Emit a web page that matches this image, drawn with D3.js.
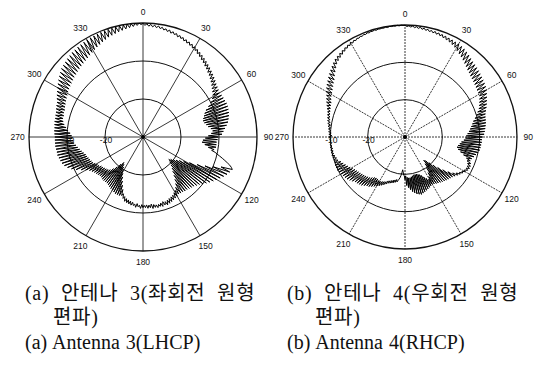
<!DOCTYPE html>
<html>
<head>
<meta charset="utf-8">
<script src="https://cdn.jsdelivr.net/npm/d3@7"></script>
<style>
  html, body { margin: 0; padding: 0; background: #fff; }
  svg { display: block; }
  .tick-label { font-family: Arial, "Liberation Sans", sans-serif; font-size: 8.5px; fill: #111; }
  .caption { font-family: "Liberation Serif", "Noto Sans CJK KR", serif; font-size: 20px; fill: #111; }
</style>
</head>
<body>
<div id="chart"></div>
<script>
// angle ticks (deg, clockwise from top) and radial ticks (dB)
const angleTicks = [0, 30, 60, 90, 120, 150, 180, 210, 240, 270, 300, 330];
const ringTicks = [-20, -10, 0];
const ringLabels = ['-20', '-10'];
const dbRange = [-30, 0];

// one sample per degree, 0..359
const sampleAngles = d3.range(0, 360);

// Antenna 3 (LHCP), dB
const gainLHCP = [
  -0.1,-0.6,-0.2,-0.8,-0.3,-0.9,-0.4,-1.0,-0.5,-1.1,
  -0.7,-1.3,-0.9,-1.5,-1.0,-1.7,-1.2,-1.8,-1.4,-2.1,
  -1.6,-2.2,-1.8,-2.5,-2.0,-2.7,-2.2,-2.9,-2.4,-3.2,
  -2.6,-3.4,-2.9,-3.8,-3.2,-4.1,-3.5,-4.5,-3.8,-4.8,
  -4.1,-5.2,-4.4,-5.5,-4.7,-5.9,-5.0,-6.2,-5.3,-6.6,
  -5.6,-7.0,-5.9,-7.4,-6.2,-7.8,-6.4,-8.2,-6.6,-8.6,
  -6.8,-9.2,-6.6,-10.0,-6.5,-11.0,-6.4,-12.0,-6.3,-12.6,
  -6.3,-13.0,-6.4,-13.4,-6.5,-13.6,-6.7,-13.4,-7.0,-13.0,
  -7.3,-12.6,-7.8,-12.0,-8.3,-11.6,-8.8,-12.0,-9.2,-12.8,
  -10.2,-13.6,-10.4,-14.2,-10.6,-14.4,-10.6,-13.6,-10.6,-12.6,
  -11.0,-11.6,-10.6,-10.0,-9.2,-8.4,-7.6,-6.8,-6.0,-5.4,
  -5.0,-8.0,-5.4,-10.0,-5.8,-12.0,-6.4,-14.0,-7.0,-16.0,
  -7.6,-17.5,-8.2,-18.6,-8.8,-19.4,-9.4,-20.0,-10.0,-20.6,
  -10.6,-21.0,-11.0,-20.4,-11.4,-19.6,-11.6,-18.8,-11.8,-18.0,
  -12.0,-17.0,-12.0,-16.0,-12.2,-15.0,-12.2,-14.2,-12.3,-13.6,
  -12.0,-13.2,-11.8,-12.8,-11.6,-12.6,-11.4,-12.4,-11.2,-12.2,
  -11.0,-12.0,-11.2,-12.2,-11.0,-12.0,-11.2,-11.8,-11.0,-11.8,
  -11.2,-12.0,-11.0,-12.2,-11.3,-12.0,-11.2,-12.1,-11.4,-12.0,
  -11.4,-12.2,-11.2,-12.0,-11.6,-12.4,-11.4,-12.2,-11.8,-12.6,
  -11.8,-12.8,-12.0,-13.0,-12.2,-13.2,-12.4,-13.6,-13.0,-14.2,
  -13.6,-15.2,-13.4,-16.2,-13.4,-17.2,-13.4,-18.2,-13.6,-19.0,
  -13.8,-19.8,-14.0,-20.6,-14.2,-21.2,-14.4,-21.6,-14.6,-20.8,
  -14.6,-19.6,-14.6,-18.6,-14.6,-17.8,-14.8,-17.4,-14.8,-17.2,
  -14.6,-17.0,-14.4,-16.8,-14.2,-16.6,-13.8,-16.2,-13.4,-16.0,
  -12.6,-15.6,-11.6,-15.2,-10.4,-15.0,-9.4,-14.8,-8.6,-14.6,
  -8.0,-14.4,-7.6,-14.2,-7.4,-13.8,-7.2,-13.4,-7.0,-13.0,
  -7.0,-12.6,-6.9,-12.2,-6.8,-11.8,-6.8,-11.6,-6.8,-11.4,
  -6.8,-11.2,-6.7,-10.8,-6.6,-10.2,-6.6,-9.6,-6.5,-9.0,
  -6.4,-8.6,-6.4,-8.4,-6.3,-8.4,-6.2,-8.2,-6.0,-8.2,
  -5.8,-8.0,-5.6,-7.8,-5.2,-7.6,-4.8,-7.4,-4.4,-7.2,
  -4.0,-7.0,-3.6,-6.8,-3.2,-6.6,-2.8,-6.4,-2.4,-6.2,
  -2.0,-6.0,-1.8,-5.8,-1.6,-5.6,-1.4,-5.4,-1.2,-5.2,
  -1.0,-5.0,-0.9,-4.8,-0.8,-4.6,-0.7,-4.3,-0.6,-4.0,
  -0.5,-3.7,-0.4,-3.4,-0.4,-3.1,-0.3,-2.8,-0.3,-2.5,
  -0.2,-2.2,-0.2,-2.0,-0.2,-1.8,-0.1,-1.6,-0.1,-1.4,
  -0.1,-1.2,0.0,-1.0,0.0,-0.8,0.0,-0.6,0.0,-0.4
];

// Antenna 4 (RHCP), dB
const gainRHCP = [
  -0.1,-0.4,-0.2,-0.5,-0.2,-0.6,-0.3,-0.7,-0.3,-0.8,
  -0.4,-0.9,-0.5,-1.0,-0.6,-1.1,-0.6,-1.2,-0.7,-1.3,
  -0.8,-1.5,-0.9,-1.7,-1.0,-1.9,-1.1,-2.2,-1.2,-2.5,
  -1.2,-3.0,-1.4,-3.4,-1.6,-3.8,-1.9,-4.2,-2.2,-4.6,
  -2.6,-5.0,-2.9,-5.4,-3.1,-5.7,-3.3,-6.0,-3.5,-6.2,
  -3.7,-6.4,-3.9,-6.6,-4.1,-6.8,-4.3,-7.0,-4.5,-7.1,
  -4.8,-7.2,-5.2,-7.6,-5.6,-8.0,-6.0,-8.4,-6.4,-8.8,
  -6.8,-9.4,-7.2,-10.0,-7.6,-10.6,-7.8,-11.2,-7.9,-11.6,
  -8.0,-12.0,-8.2,-12.4,-8.4,-12.8,-8.6,-13.2,-8.8,-13.6,
  -9.2,-13.8,-9.4,-14.2,-9.4,-14.8,-9.5,-15.2,-9.6,-15.6,
  -9.7,-15.8,-10.0,-15.4,-10.4,-14.6,-10.8,-13.6,-11.2,-12.6,
  -11.4,-12.2,-11.0,-11.8,-10.8,-11.6,-10.8,-11.6,-11.0,-11.8,
  -11.4,-12.2,-11.8,-12.6,-12.2,-13.2,-12.6,-14.0,-13.0,-15.2,
  -13.4,-16.6,-13.6,-18.0,-13.8,-19.4,-14.0,-20.6,-14.2,-21.6,
  -14.4,-22.0,-14.6,-21.0,-14.8,-19.8,-15.0,-18.6,-15.2,-17.6,
  -15.4,-17.0,-15.2,-17.6,-15.0,-18.2,-14.8,-18.8,-14.6,-19.2,
  -14.4,-19.4,-14.2,-19.6,-14.0,-19.6,-14.2,-19.6,-14.4,-19.4,
  -14.8,-19.2,-15.2,-19.0,-15.8,-19.0,-16.4,-19.2,-17.0,-19.6,
  -18.6,-19.6,-19.8,-20.6,-21.2,-20.4,-19.6,-19.0,-18.6,-18.2,
  -17.8,-18.4,-17.6,-18.2,-17.4,-18.0,-17.2,-17.8,-17.0,-17.6,
  -16.8,-17.4,-16.4,-17.0,-16.0,-16.8,-15.6,-16.6,-15.2,-16.4,
  -14.8,-16.4,-14.4,-16.6,-14.0,-16.6,-13.6,-16.4,-13.4,-16.0,
  -13.0,-15.6,-12.6,-15.4,-12.4,-15.2,-12.2,-15.0,-12.0,-14.8,
  -11.6,-14.6,-11.2,-14.4,-10.8,-14.2,-10.6,-14.0,-10.4,-13.6,
  -10.2,-13.2,-10.0,-12.8,-9.8,-12.4,-9.8,-12.0,-9.8,-11.6,
  -10.0,-11.0,-10.0,-10.8,-9.9,-10.6,-9.8,-10.4,-9.8,-10.4,
  -9.8,-10.4,-9.8,-10.3,-9.8,-10.2,-9.8,-10.2,-9.8,-10.2,
  -9.6,-10.4,-9.6,-10.2,-9.5,-10.0,-9.4,-9.9,-9.2,-9.8,
  -9.0,-9.6,-8.8,-9.4,-8.6,-9.2,-8.4,-9.0,-8.2,-8.8,
  -7.8,-8.6,-7.4,-8.4,-7.0,-8.2,-6.6,-7.8,-6.2,-7.4,
  -5.6,-7.2,-5.2,-6.8,-4.8,-6.4,-4.4,-6.0,-4.0,-5.6,
  -3.6,-5.0,-3.2,-4.4,-2.8,-3.8,-2.4,-3.2,-2.0,-2.8,
  -1.8,-2.5,-1.6,-2.2,-1.4,-1.9,-1.2,-1.6,-1.0,-1.4,
  -0.8,-1.2,-0.7,-1.0,-0.6,-0.8,-0.5,-0.7,-0.4,-0.6,
  -0.3,-0.5,-0.3,-0.4,-0.2,-0.4,-0.2,-0.3,-0.2,-0.3,
  -0.1,-0.3,-0.1,-0.2,-0.1,-0.2,0.0,-0.2,0.0,-0.1
];

const captionsA = ['(a) 안테나 3(좌회전 원형', '편파)', '(a) Antenna 3(LHCP)'];
const captionsB = ['(b) 안테나 4(우회전 원형', '편파)', '(b) Antenna 4(RHCP)'];

const width = 537;
const height = 370;

const svg = d3.select('#chart').append('svg')
  .attr('width', width)
  .attr('height', height);

svg.append('rect').attr('width', width).attr('height', height).attr('fill', '#fff');

function drawPolar(cx, cy, R, gains, gridDash) {
  const g = svg.append('g').attr('transform', `translate(${cx},${cy})`);
  const r = d3.scaleLinear().domain(dbRange).range([0, R]);
  const rad = d => d * Math.PI / 180;

  // spokes
  g.selectAll('line.spoke')
    .data(angleTicks)
    .join('line')
    .attr('class', 'spoke')
    .attr('x1', 0).attr('y1', 0)
    .attr('x2', d => R * Math.sin(rad(d)))
    .attr('y2', d => -R * Math.cos(rad(d)))
    .attr('stroke', '#222')
    .attr('stroke-width', 0.9)
    .attr('stroke-dasharray', gridDash);

  // rings
  g.selectAll('circle.ring')
    .data(ringTicks)
    .join('circle')
    .attr('class', 'ring')
    .attr('r', d => r(d))
    .attr('fill', 'none')
    .attr('stroke', '#111')
    .attr('stroke-width', d => d === 0 ? 1.3 : 1);

  // angle labels
  g.selectAll('text.ang')
    .data(angleTicks)
    .join('text')
    .attr('class', 'tick-label ang')
    .attr('x', d => R * 1.1 * Math.sin(rad(d)))
    .attr('y', d => -R * 1.1 * Math.cos(rad(d)))
    .attr('text-anchor', 'middle')
    .attr('dominant-baseline', 'central')
    .text(d => d);

  // pattern
  const line = d3.lineRadial()
    .angle((d, i) => rad(sampleAngles[i]))
    .radius(d => r(Math.max(dbRange[0], d)))
    .curve(d3.curveLinearClosed);

  g.append('path')
    .datum(gains)
    .attr('d', line)
    .attr('fill', 'none')
    .attr('stroke', '#000')
    .attr('stroke-width', 1)
    .attr('stroke-linejoin', 'miter');

  // radial labels on the 270 spoke (drawn over the trace)
  g.selectAll('text.rlab')
    .data(ringLabels)
    .join('text')
    .attr('class', 'tick-label rlab')
    .attr('x', d => -r(+d) + 1)
    .attr('y', 6)
    .attr('text-anchor', 'middle')
    .text(d => d);

  g.append('circle').attr('r', 2).attr('fill', '#000');
}

drawPolar(143, 137, 114, gainLHCP, null);
drawPolar(405, 137, 112, gainRHCP, '2,1');

function drawCaption(x, lines) {
  const t = svg.append('g');
  t.append('text').attr('class', 'caption')
    .attr('x', x).attr('y', 300)
    .attr('word-spacing', 6)
    .attr('letter-spacing', 0.7)
    .text(lines[0]);
  t.append('text').attr('class', 'caption')
    .attr('x', x + 28).attr('y', 324)
    .attr('letter-spacing', 0.7)
    .text(lines[1]);
  t.append('text').attr('class', 'caption')
    .attr('x', x).attr('y', 349)
    .attr('word-spacing', 1)
    .text(lines[2]);
}

drawCaption(25, captionsA);
drawCaption(287, captionsB);
</script>
</body>
</html>
